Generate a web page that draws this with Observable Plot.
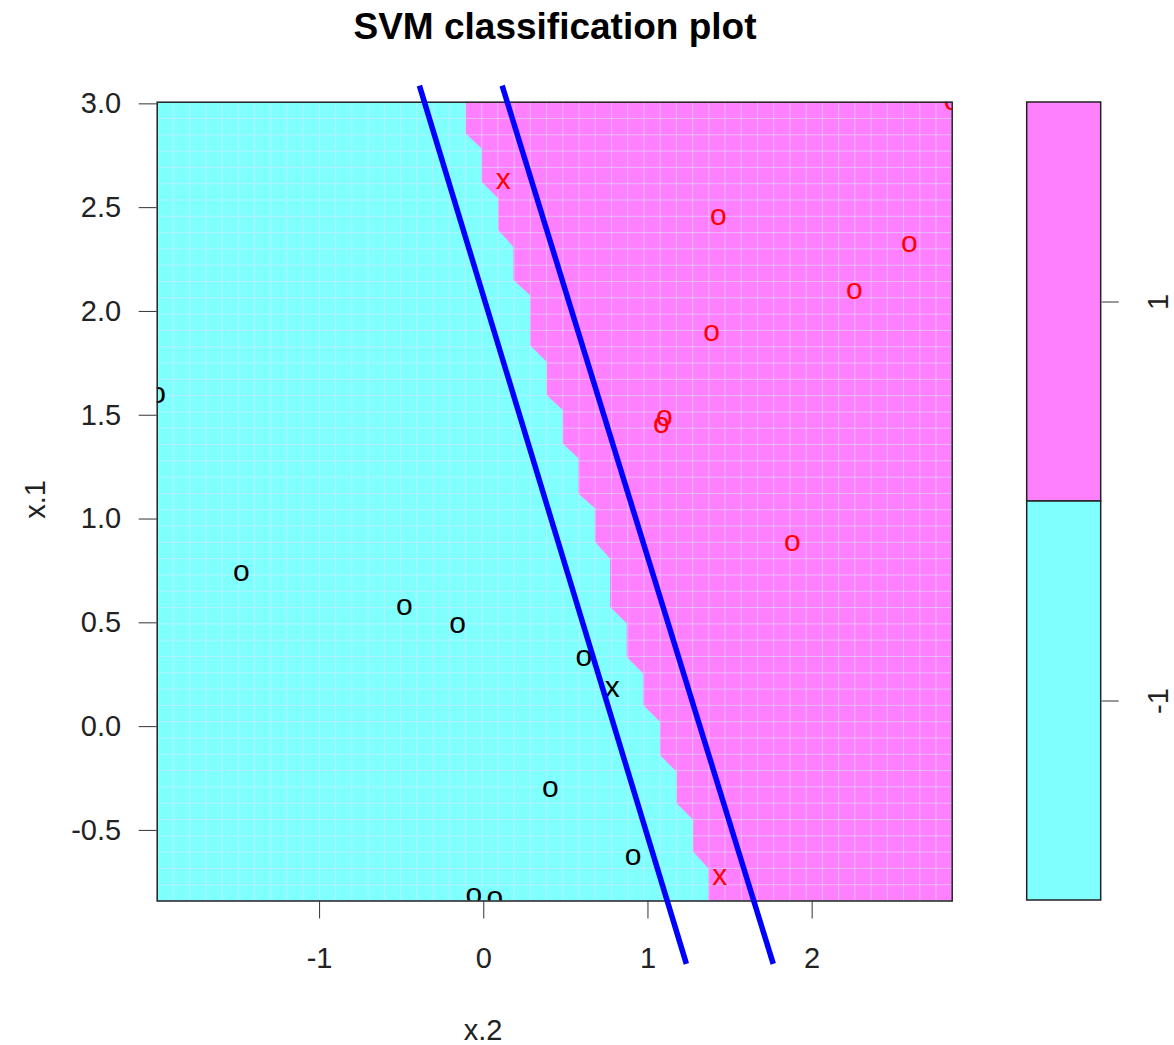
<!DOCTYPE html>
<html>
<head>
<meta charset="utf-8">
<script src="https://cdn.jsdelivr.net/npm/d3@7"></script>
<script src="https://cdn.jsdelivr.net/npm/@observablehq/plot@0.6"></script>
<style>
  body { margin: 0; background: #fff; font-family: "Liberation Sans", Arial, sans-serif; }
  #wrap { position: relative; width: 1174px; height: 1045px; overflow: hidden; background: #fff; }
  #title { position: absolute; left: 0; width: 1110px; top: 8px; text-align: center; font-weight: bold; font-size: 37px; line-height: 1; color: #000; }
  #xlab { position: absolute; left: 383px; width: 200px; top: 1016px; text-align: center; font-size: 29px; line-height: 1; color: #222; }
  #ylab { position: absolute; left: -65px; width: 200px; top: 485px; height: 29px; line-height: 29px; text-align: center; font-size: 29px; color: #222; transform: rotate(-90deg); transform-origin: 50% 50%; }
  #main { position: absolute; left: 0; top: 0; }
  #legend { position: absolute; left: 1000px; top: 0; }
</style>
</head>
<body>
<div id="wrap">
  <div id="main"></div>
  <div id="legend"></div>
  <div id="title">SVM classification plot</div>
  <div id="xlab">x.2</div>
  <div id="ylab">x.1</div>
</div>
<script>
// ---- data ----
const cyan = "#80FFFF";
const magenta = "#FF80FF";

const xDomain = [-1.989, 2.853];   // x.2 range of the prediction grid
const yDomain = [-0.840, 3.008];   // x.1 range of the prediction grid
const gridN = 50;                  // grid resolution

const xTicks = [-1, 0, 1, 2];
const yTicks = [-0.5, 0, 0.5, 1, 1.5, 2, 2.5, 3];

// decision boundary (staircase) vertices: x.2 and x.1
const boundaryX2 = [-0.107, -0.107, -0.010, -0.010, 0.091, 0.091, 0.183, 0.183, 0.284, 0.284, 0.386, 0.386,
  0.484, 0.484, 0.579, 0.579, 0.680, 0.680, 0.772, 0.772, 0.873, 0.873, 0.974, 0.974, 1.076, 1.076,
  1.178, 1.178, 1.279, 1.279, 1.370, 1.370];
const boundaryX1 = [3.008, 2.855, 2.783, 2.622, 2.542, 2.390, 2.309, 2.149, 2.077, 1.836, 1.755, 1.595,
  1.523, 1.362, 1.290, 1.121, 1.049, 0.888, 0.808, 0.575, 0.495, 0.334, 0.254, 0.102, 0.021, -0.139,
  -0.220, -0.372, -0.452, -0.605, -0.685, -0.840];

// margin lines (two endpoints each)
const lineId = ["lower", "lower", "upper", "upper"];
const lineX2 = [-0.392, 1.234, 0.112, 1.763];
const lineX1 = [3.088, -1.143, 3.088, -1.143];

// observations
const ptX2 = [-1.987, -1.476, -0.483, -0.160, 0.609, 0.406, 0.910, -0.061, 0.067, 0.782,
  0.118, 1.437, 1.429, 2.592, 2.257, 1.387, 1.100, 1.082, 1.880, 2.853];
const ptX1 = [1.595, 0.738, 0.574, 0.487, 0.327, -0.303, -0.629, -0.820, -0.831, 0.177,
  2.626, -0.725, 2.452, 2.322, 2.096, 1.893, 1.487, 1.450, 0.882, 3.008];
const ptClass = [-1, -1, -1, -1, -1, -1, -1, -1, -1, -1,
  1, 1, 1, 1, 1, 1, 1, 1, 1, 1];
const ptSV = [false, false, false, false, false, false, false, false, false, true,
  true, true, false, false, false, false, false, false, false, false];

const legendLevels = ["1", "-1"];
const legendColors = [magenta, cyan];

// ---- tables ----
const boundary = boundaryX2.map((x, i) => ({x2: x, x1: boundaryX1[i]}));
const lines = lineId.map((id, i) => ({id, x2: lineX2[i], x1: lineX1[i]}));
const points = ptX2.map((x, i) => ({x2: x, x1: ptX1[i], cls: ptClass[i], sv: ptSV[i]}));
const gx = d3.range(gridN).map(i => xDomain[0] + i * (xDomain[1] - xDomain[0]) / (gridN - 1));
const gy = d3.range(gridN).map(i => yDomain[0] + i * (yDomain[1] - yDomain[0]) / (gridN - 1));

const seam = "#d8e8ff";

const main = Plot.plot({
  width: 1000,
  height: 1045,
  marginLeft: 156.7,
  marginRight: 48.3,
  marginTop: 101.7,
  marginBottom: 144.5,
  style: {fontFamily: "'Liberation Sans', Arial, sans-serif", fontSize: "29px", color: "#222", background: "transparent"},
  x: {domain: xDomain},
  y: {domain: yDomain},
  marks: [
    Plot.frame({fill: cyan}),
    Plot.areaX(boundary, {y: "x1", x1: "x2", x2: () => xDomain[1], fill: magenta, curve: "linear"}),
    Plot.ruleX(gx, {stroke: seam, strokeOpacity: 0.55, strokeWidth: 1}),
    Plot.ruleY(gy, {stroke: seam, strokeOpacity: 0.55, strokeWidth: 1}),
    Plot.text(points, {
      x: "x2", y: "x1",
      text: d => d.sv ? "x" : "o",
      fill: d => d.cls === 1 ? "#ff0000" : "#000000",
      fontSize: 30, dy: -2, clip: true
    }),
    Plot.frame({stroke: "#222", strokeWidth: 1.5}),
    Plot.line(lines, {x: "x2", y: "x1", z: "id", stroke: "#0000ff", strokeWidth: 5.5, strokeLinecap: "butt"}),
    Plot.axisX({ticks: xTicks, tickSize: 18, tickPadding: 28, tickFormat: d => String(d), label: null, stroke: "#333"}),
    Plot.axisY({ticks: yTicks, tickSize: 18, tickPadding: 18, tickFormat: d => d.toFixed(1), label: null, stroke: "#333"})
  ]
});
document.getElementById("main").appendChild(main);

const legend = Plot.plot({
  width: 174,
  height: 1045,
  marginLeft: 26.7,
  marginRight: 73.3,
  marginTop: 101.7,
  marginBottom: 144.5,
  style: {fontFamily: "'Liberation Sans', Arial, sans-serif", fontSize: "29px", color: "#222", background: "transparent"},
  y: {type: "band", domain: legendLevels, padding: 0},
  color: {type: "identity"},
  marks: [
    Plot.cell(legendLevels, {y: d => d, fill: (d, i) => legendColors[i], stroke: "#222", strokeWidth: 1.5}),
    Plot.axisY({anchor: "right", tickSize: 17, tickFormat: () => "", label: null, stroke: "#333"}),
    Plot.text(legendLevels, {y: d => d, text: d => d, frameAnchor: "right", dx: 58, rotate: -90, fontSize: 29, fill: "#222", textAnchor: "middle"})
  ]
});
document.getElementById("legend").appendChild(legend);
</script>
</body>
</html>
